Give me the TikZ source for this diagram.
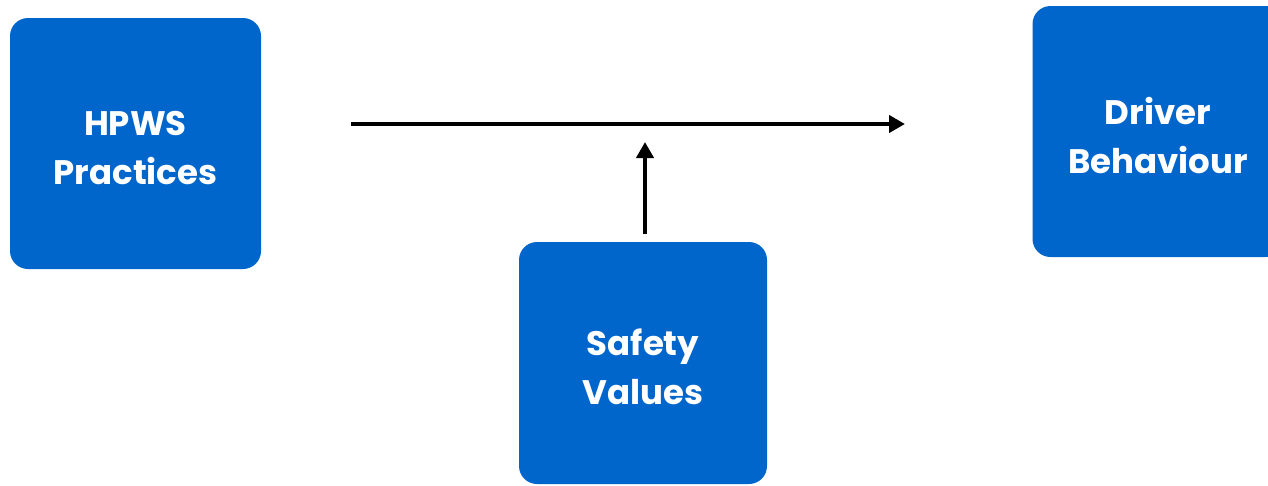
\documentclass[tikz,border=0pt]{standalone}
\usepackage{fontspec}
\setmainfont{Poppins}
\usetikzlibrary{arrows.meta}
\definecolor{boxblue}{RGB}{0,102,204}
\tikzset{
  box/.style={fill=boxblue, draw=none, rounded corners=18pt, inner sep=0pt},
  boxtext/.style={inner sep=0pt, align=center, text=white, font=\bfseries\fontsize{34}{49}\selectfont},
  link/.style={line width=4.5pt, -{Triangle[length=16pt,width=17pt]}}
}
\begin{document}
\begin{tikzpicture}[x=1pt,y=-1pt]
\clip (0,0) rectangle (1268,485);
\fill[white] (0,0) rectangle (1268,485);
\node[box, minimum width=251pt, minimum height=251pt] (hpws) at (135.5,143.5) {};
\node[box, minimum width=251pt, minimum height=251pt] (drv) at (1158,131.5) {};
\node[box, minimum width=248pt, minimum height=242pt] (sv) at (643,363) {};
\node[boxtext] (hpwst) at ([yshift=-5pt]hpws.center) {HPWS\\Practices};
\node[boxtext] (drvt) at ([yshift=-4pt]drv.center) {Driver\\Behaviour};
\node[boxtext] (svt) at ([yshift=-4pt]sv.center) {Safety\\Values};
\coordinate (hs) at (351,124);
\coordinate (he) at (905,124);
\coordinate (vs) at (645,234);
\coordinate (ve) at (645,142);
\draw[link] (hs) -- (he);
\draw[link] (vs) -- (ve);
\end{tikzpicture}
\end{document}
